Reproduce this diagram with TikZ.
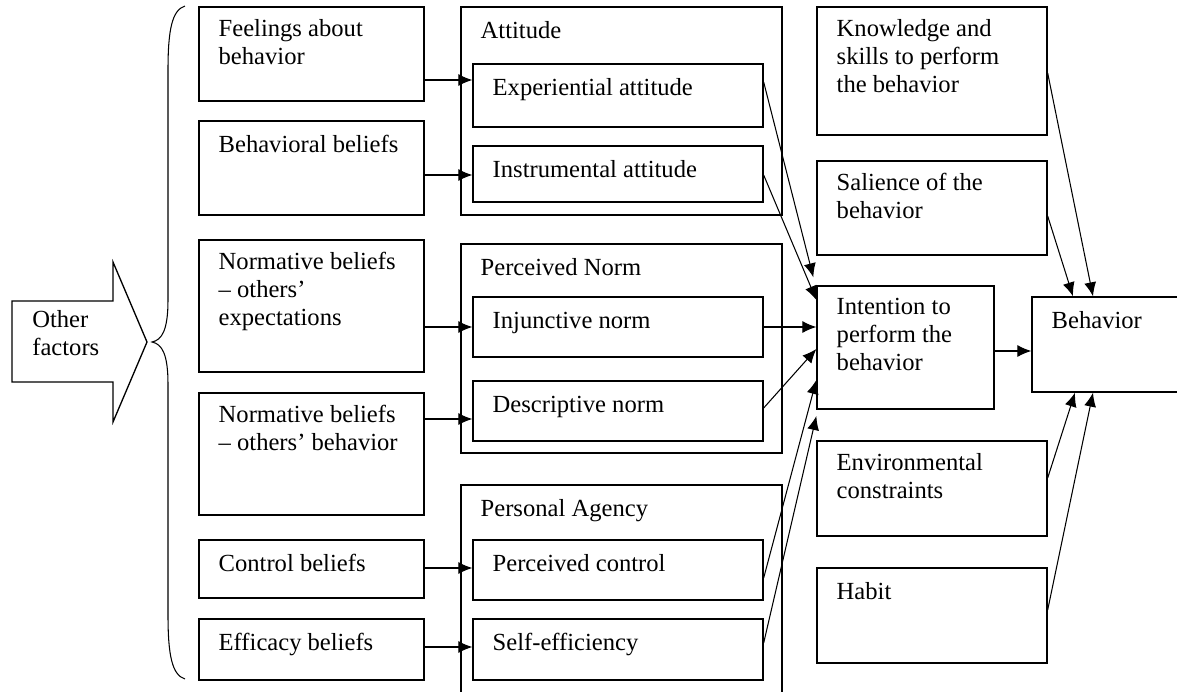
\documentclass[tikz,border=0pt]{standalone}
\usepackage{fontspec}
\setmainfont{Liberation Serif}
\usetikzlibrary{arrows.meta,fit,calc}

\begin{document}
\begin{tikzpicture}[x=0.02cm,y=-0.02cm]
    \tikzstyle{box}   = [draw=black,line width=0.75pt,inner sep=0pt,rectangle]
    \tikzstyle{txt}   = [anchor=north west,inner sep=0pt,align=left,
                         font=\fontsize{14}{16}\selectfont,execute at begin node=\strut]
    \tikzstyle{dedge} = [line width=0.6pt,-{Latex[length=0.28cm,width=0.24cm]},draw=black]
    \newcommand{\boxtext}[2]{\node[txt] (#1 text) at ([shift={(20,12.3)}]#1.north west) {#2};}

    \useasboundingbox (0,0) rectangle (1177,691);
    \clip (0,0) rectangle (1177,691);

    % other factors and brace
    \draw[line width=0.75pt] (12,301) -- (113,301) -- (113,262) -- (147,342)
      -- (113,422) -- (113,382) -- (12,382) -- cycle;
    \node[txt] (other factors) at (32,310.3) {Other\\factors};
    \draw[line width=0.6pt] (185,6) .. controls (172,10) and (168,30) .. (168,70) -- (168,300)
      .. controls (168,330) and (162,340) .. (152,342)
      .. controls (162,344) and (168,354) .. (168,384) -- (168,615)
      .. controls (168,655) and (172,675) .. (185,679);

    % beliefs
    \node[box,fit={(199,7)(424,101)}] (feelings) {};
    \node[box,fit={(199,121)(424,215)}] (behavioral beliefs) {};
    \node[box,fit={(199,240)(424,372)}] (normative expectations) {};
    \node[box,fit={(199,393)(424,515)}] (normative behavior) {};
    \node[box,fit={(199,540)(424,598)}] (control beliefs) {};
    \node[box,fit={(199,619)(424,680)}] (efficacy beliefs) {};
    \boxtext{feelings}{Feelings about\\behavior}
    \boxtext{behavioral beliefs}{Behavioral beliefs}
    \boxtext{normative expectations}{Normative beliefs\\-- others' \\expectations}
    \boxtext{normative behavior}{Normative beliefs\\-- others' behavior}
    \boxtext{control beliefs}{Control beliefs}
    \boxtext{efficacy beliefs}{Efficacy beliefs}

    % groups
    \node[box,fit={(461,7)(782,215)}] (attitude) {};
    \node[box,fit={(461,244)(782,453)}] (perceived norm) {};
    \node[box,fit={(461,485)(782,720)}] (personal agency) {};
    \boxtext{attitude}{Attitude}
    \boxtext{perceived norm}{Perceived Norm}
    \boxtext{personal agency}{Personal Agency}

    \node[box,fit={(473,64)(763,127)}] (experiential) {};
    \node[box,fit={(473,146)(763,202)}] (instrumental) {};
    \node[box,fit={(473,297)(763,357)}] (injunctive) {};
    \node[box,fit={(473,381)(763,441)}] (descriptive) {};
    \node[box,fit={(473,540)(763,600)}] (perceived control) {};
    \node[box,fit={(473,619)(763,680)}] (self efficiency) {};
    \boxtext{experiential}{Experiential attitude}
    \boxtext{instrumental}{Instrumental attitude}
    \boxtext{injunctive}{Injunctive norm}
    \boxtext{descriptive}{Descriptive norm}
    \boxtext{perceived control}{Perceived control}
    \boxtext{self efficiency}{Self-efficiency}

    % right column
    \node[box,fit={(817,7)(1047,135)}] (knowledge) {};
    \node[box,fit={(817,161)(1047,255)}] (salience) {};
    \node[box,fit={(817,286)(994,409)}] (intention) {};
    \node[box,fit={(1032,297)(1200,392)}] (behavior) {};
    \node[box,fit={(817,441)(1047,536)}] (environmental) {};
    \node[box,fit={(817,568)(1047,663)}] (habit) {};
    \boxtext{knowledge}{Knowledge and\\skills to perform\\the behavior}
    \boxtext{salience}{Salience of the\\behavior}
    \boxtext{intention}{Intention to\\perform the\\behavior}
    \boxtext{behavior}{Behavior}
    \boxtext{environmental}{Environmental\\constraints}
    \boxtext{habit}{Habit}

    \draw[dedge] (feelings.east |- 0,80) -- (experiential.west |- 0,80);
    \draw[dedge] (behavioral beliefs.east |- 0,175) -- (instrumental.west |- 0,175);
    \draw[dedge] (normative expectations.east |- 0,327) -- (injunctive.west |- 0,327);
    \draw[dedge] (normative behavior.east |- 0,419) -- (descriptive.west |- 0,419);
    \draw[dedge] (control beliefs.east |- 0,568) -- (perceived control.west |- 0,568);
    \draw[dedge] (efficacy beliefs.east |- 0,647) -- (self efficiency.west |- 0,647);

    \draw[dedge] (experiential.east |- 0,82) -- ([shift={(-3,-8)}]intention.north west);
    \draw[dedge] (instrumental.east |- 0,175) -- (intention.west |- 0,300);
    \draw[dedge] (injunctive.east |- 0,327) -- (intention.west |- 0,327);
    \draw[dedge] (descriptive.east |- 0,408) -- (intention.west |- 0,349);
    \draw[dedge] (perceived control.east |- 0,578) -- (intention.west |- 0,380);
    \draw[dedge] (self efficiency.east |- 0,643) -- (intention.west |- 0,416);

    \draw[dedge] (intention.east |- 0,351) -- (behavior.west |- 0,351);
    \draw[dedge] (knowledge.east |- 0,73) -- (behavior.north -| 1093,0);
    \draw[dedge] (salience.east |- 0,216) -- (behavior.north -| 1073,0);
    \draw[dedge] (environmental.east |- 0,478) -- (behavior.south -| 1075,0);
    \draw[dedge] (habit.east |- 0,610) -- (behavior.south -| 1093,0);
\end{tikzpicture}
\end{document}
